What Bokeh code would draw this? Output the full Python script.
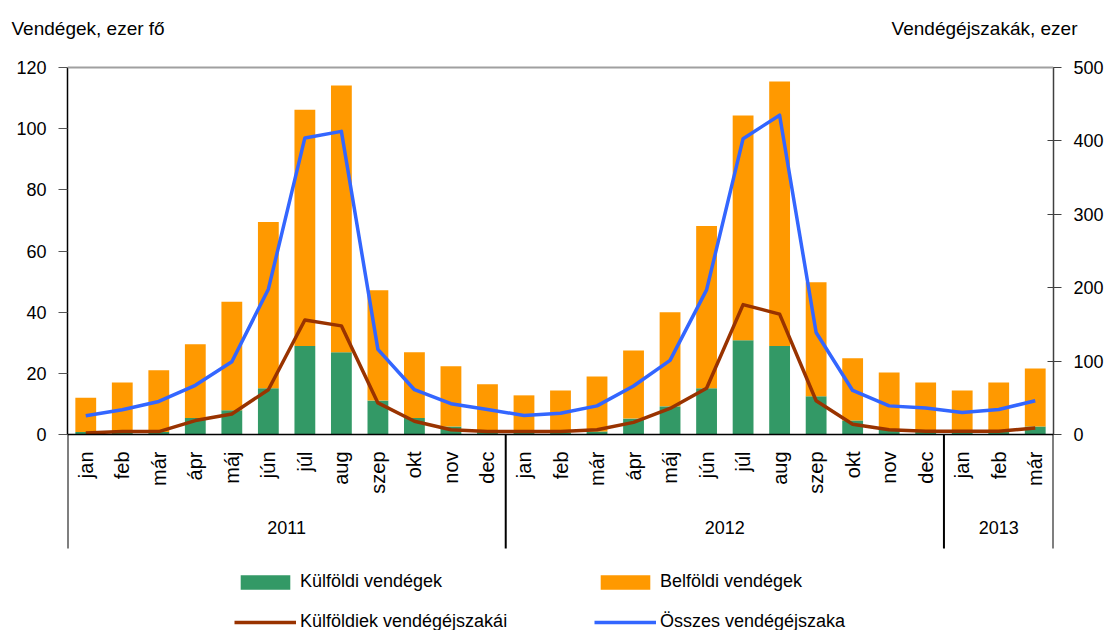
import math
import numpy as np
from bokeh.plotting import figure
from bokeh.models import (ColumnDataSource, Range1d, LinearAxis, FixedTicker, Legend,
                          LegendItem, Span, Title)
from bokeh.core.properties import value
from bokeh.embed import file_html
from bokeh.resources import INLINE

# ---------------- data ----------------
months = ["jan", "feb", "már", "ápr", "máj", "jún", "júl", "aug", "szep", "okt", "nov", "dec",
          "jan", "feb", "már", "ápr", "máj", "jún", "júl", "aug", "szep", "okt", "nov", "dec",
          "jan", "feb", "már"]
years = ["2011", "2012", "2013"]
year_counts = [12, 12, 3]

# thousand guests (left axis)
kulfoldi_vendegek = [0.8, 0.6, 0.8, 5.4, 7.9, 15.1, 28.9, 26.9, 11.1, 5.4, 2.6, 1.0,
                     0.7, 0.7, 1.0, 5.2, 9.2, 15.1, 30.8, 28.9, 12.5, 4.6, 1.5, 1.0,
                     0.8, 1.0, 2.6]
belfoldi_vendegek = [11.2, 16.4, 20.2, 24.1, 35.5, 54.4, 77.3, 87.2, 36.1, 21.5, 19.7, 15.4,
                     12.1, 13.7, 18.0, 22.3, 30.8, 53.1, 73.5, 86.5, 37.3, 20.3, 18.8, 16.0,
                     13.6, 16.0, 19.0]
# thousand guest nights (right axis)
kulfoldiek_vendegejszakai = [2, 4, 4, 19, 28, 61, 156, 148, 43, 18, 6.5, 4,
                             4, 4, 6.5, 16.5, 35.5, 63, 177, 164, 46, 14, 6.5, 4.5,
                             4.5, 4.5, 9]
osszes_vendegejszaka = [25.5, 33.7, 45, 67, 99, 198, 404, 413, 116, 61, 42, 34,
                        26, 29, 39, 66, 101, 197, 403, 435, 139, 60, 39, 36,
                        30, 34, 46]

left_ticks = [0, 20, 40, 60, 80, 100, 120]
right_ticks = [0, 100, 200, 300, 400, 500]

GREEN = "#339966"
ORANGE = "#FF9900"
BROWN = "#993300"
BLUE = "#3366FF"
FONT = "Liberation Sans"

# ---------------- layout (pixels, figure coordinates) ----------------
W, H = 1106, 630
FRAME_TOP = 26          # top of drawing frame
FRAME_BOTTOM = H        # frame reaches figure bottom (labels + legend live inside)
TOP_PX = 67             # y of the left-axis maximum
ZERO_PX = 434           # y of the zero line
ppu_l = (ZERO_PX - TOP_PX) / left_ticks[-1]
ppu_r = (ZERO_PX - TOP_PX) / right_ticks[-1]
y_l = Range1d(-(FRAME_BOTTOM - ZERO_PX) / ppu_l, left_ticks[-1] + (TOP_PX - FRAME_TOP) / ppu_l)
y_r = Range1d(-(FRAME_BOTTOM - ZERO_PX) / ppu_r, right_ticks[-1] + (TOP_PX - FRAME_TOP) / ppu_r)

MONTH_OFF = 17          # px below zero line where month labels end
YEAR_OFF = 93           # px below zero line: year label centre
DIV_OFF = 114           # px below zero line: divider length

n = len(months)
x = list(range(n))
src = ColumnDataSource(dict(x=x, kulf=kulfoldi_vendegek, belf=belfoldi_vendegek,
                            kej=kulfoldiek_vendegejszakai, oej=osszes_vendegejszaka))

p = figure(width=W, height=H, output_backend="svg", toolbar_location=None,
           x_range=Range1d(-0.5, n - 0.5), y_range=y_l, x_axis_location=None,
           min_border_left=67, min_border_right=53, min_border_top=FRAME_TOP,
           min_border_bottom=0)
p.extra_y_ranges = {"ej": y_r}
p.grid.visible = False
p.outline_line_color = None
p.background_fill_color = "white"
p.border_fill_color = "white"

# frame top line
p.add_layout(Span(location=left_ticks[-1], dimension="width", line_color="#a0a0a0",
                  line_width=2))

bars = p.vbar_stack(["kulf", "belf"], x="x", width=0.57, color=[GREEN, ORANGE],
                    line_color=None, source=src)
l_k = p.line("x", "kej", source=src, y_range_name="ej", line_color=BROWN, line_width=3.5,
             line_join="round")
l_o = p.line("x", "oej", source=src, y_range_name="ej", line_color=BLUE, line_width=3.5,
             line_join="round")

p.add_layout(Span(location=0, dimension="width", line_color="black", line_width=1.5))

# category axis: month labels, year labels, dividers
bounds = list(np.cumsum([0] + year_counts) - 0.5)
centers = [(bounds[i] + bounds[i + 1]) / 2 for i in range(len(years))]
p.segment(x0=bounds, y0=[0] * len(bounds), x1=bounds, y1=[-DIV_OFF / ppu_l] * len(bounds),
          line_color="black", line_width=2)
p.text(x=x, y=[-MONTH_OFF / ppu_l] * n, text=months, angle=math.pi / 2,
       text_align="right", text_baseline="middle", text_font=value(FONT),
       text_font_size="20px", text_color="black")
p.text(x=centers, y=[-YEAR_OFF / ppu_l] * len(years), text=years, text_align="center",
       text_baseline="middle", text_font=value(FONT), text_font_size="18px",
       text_color="black")

# left axis
ya = p.yaxis[0]
ya.ticker = FixedTicker(ticks=left_ticks, minor_ticks=[])
ya.bounds = (left_ticks[0], left_ticks[-1])
ya.major_tick_out = 9
ya.major_tick_in = 0
ya.axis_line_color = "black"
ya.axis_line_width = 1.5
ya.major_tick_line_color = "#555555"
ya.major_label_standoff = 12
ya.major_label_text_font = FONT
ya.major_label_text_font_size = "18px"
ya.major_label_text_color = "black"

# right axis
ra = LinearAxis(y_range_name="ej", ticker=FixedTicker(ticks=right_ticks, minor_ticks=[]),
                bounds=(right_ticks[0], right_ticks[-1]),
                major_tick_in=6, major_tick_out=8, axis_line_color="#404040",
                axis_line_width=1.5, major_tick_line_color="#404040",
                major_label_standoff=12, major_label_text_font=FONT,
                major_label_text_font_size="18px", major_label_text_color="black")
p.add_layout(ra, "right")

# axis titles (zero-height title panels so both sit on one line)
p.add_layout(Title(text="Vendégek, ezer fő", align="left", offset=-56, standoff=-25,
                   text_font=FONT, text_font_size="19px", text_font_style="normal",
                   text_color="black"), "above")
p.add_layout(Title(text="Vendégéjszakák, ezer", align="right", offset=-24, standoff=-25,
                   text_font=FONT, text_font_size="19px", text_font_style="normal",
                   text_color="black"), "above")

# legend (column-major fill: first column, then second)
legend = Legend(items=[LegendItem(label="Külföldi vendégek", renderers=[bars[0]]),
                       LegendItem(label="Külföldiek vendégéjszakái", renderers=[l_k]),
                       LegendItem(label="Belföldi vendégek", renderers=[bars[1]]),
                       LegendItem(label="Összes vendégéjszaka", renderers=[l_o])],
                ncols=2, location=(167, -2), margin=0,
                padding=0, spacing=19, glyph_width=62, glyph_height=18, label_standoff=4,
                label_width=275, label_height=20, border_line_color=None,
                background_fill_alpha=0, label_text_font=FONT,
                label_text_font_size="18px", label_text_color="black")
p.add_layout(legend, "center")

open("out.html", "w").write(file_html(p, INLINE))
